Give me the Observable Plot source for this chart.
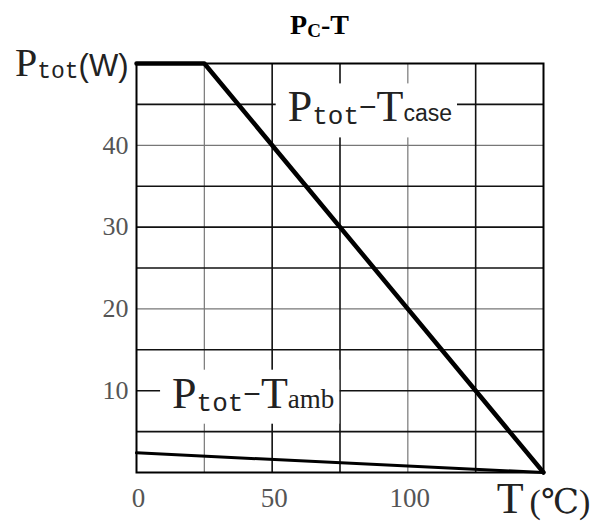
<!DOCTYPE html>
<html><head><meta charset="utf-8">
<script src="https://cdn.jsdelivr.net/npm/d3@7"></script>
<script src="https://cdn.jsdelivr.net/npm/@observablehq/plot@0.6"></script>
<style>
body{margin:0;background:#fff;}
#wrap{position:relative;width:596px;height:524px;overflow:hidden;}
#title{position:absolute;left:0;top:11px;width:639px;text-align:center;font-family:"Liberation Serif","Times New Roman",serif;font-size:28px;font-weight:bold;line-height:28px;color:#000;white-space:nowrap;}
#title sub{font-size:19px;vertical-align:baseline;position:relative;top:3px;}
#chart{position:absolute;left:0;top:40px;}
</style></head><body>
<div id="wrap"><div id="title">P<sub>C</sub>-T</div><div id="chart"></div></div>
<script>
// Data
const caseTemp = [0, 25, 150];
const casePower = [50, 50, 0];
const ambTemp = [0, 150];
const ambPower = [2.4, 0];
const gridXDark = [50, 75, 125];
const gridXLight = [25, 100];
const gridYDark = [5, 10, 15, 25, 30, 35, 45];
const gridYLight = [20, 40];
const xTicks = [0, 50, 100];
const yTicks = [10, 20, 30, 40];
const curveLabels = ["Ptot-Tcase", "Ptot-Tamb"];
const curveLabelX = [86, 43];
const curveLabelY = [45, 10];
const yUnitLabel = "Ptot(W)";
const xUnitLabel = "T (\u2103)";

const SERIF = '"Liberation Serif","Times New Roman","DejaVu Serif",serif';
const SANS = '"Liberation Sans",Arial,sans-serif';
const MONO = '"Liberation Mono","DejaVu Sans Mono",monospace';

const caseData = caseTemp.map((t, i) => ({t, p: casePower[i]}));
const ambData = ambTemp.map((t, i) => ({t, p: ambPower[i]}));
const labelData = curveLabels.map((s, i) => ({s, x: curveLabelX[i], y: curveLabelY[i]}));

const chart = Plot.plot({
  width: 596, height: 484,
  marginLeft: 136, marginRight: 53, marginTop: 23, marginBottom: 52,
  x: {domain: [0, 150]},
  y: {domain: [0, 50]},
  style: {background: "#fff"},
  marks: [
    Plot.ruleX(gridXLight, {stroke: "#777", strokeWidth: 1.2}),
    Plot.ruleY(gridYLight, {stroke: "#777", strokeWidth: 1.2}),
    Plot.ruleX(gridXDark, {stroke: "#111", strokeWidth: 1.6}),
    Plot.ruleY(gridYDark, {stroke: "#111", strokeWidth: 1.6}),
    Plot.frame({stroke: "#000", strokeWidth: 2}),
    Plot.axisX(xTicks, {tickSize: 0, tickPadding: 15, dx: 2, fontSize: 27, fontFamily: SERIF, color: "#555", label: null}),
    Plot.axisY(yTicks, {tickSize: 0, tickPadding: 8, fontSize: 26, fontFamily: SERIF, color: "#555", label: null}),
    Plot.line(ambData, {x: "t", y: "p", stroke: "#000", strokeWidth: 3}),
    Plot.line(caseData, {x: "t", y: "p", stroke: "#000", strokeWidth: 4.5}),
    Plot.text(labelData, {x: "x", y: "y", text: "s", textAnchor: "middle", lineAnchor: "bottom", dy: 17, fill: "#222", fontSize: 30}),
    Plot.text([yUnitLabel], {x: () => 0, y: () => 50, text: d => d, textAnchor: "end", lineAnchor: "bottom", dx: -8, dy: 12, fill: "#222", fontSize: 30}),
    Plot.text([xUnitLabel], {x: () => 150, y: () => 0, text: d => d, textAnchor: "middle", lineAnchor: "bottom", dy: 40, fill: "#222", fontSize: 30})
  ]
});
document.getElementById("chart").appendChild(chart);

const rich = {
  "Ptot-Tcase": [["P", SERIF, 44, 0], ["tot", MONO, 26, 3], ["\u2212", SANS, 30, -4], ["T", SERIF, 44, 0], ["case", SANS, 23, 0]],
  "Ptot-Tamb": [["P", SERIF, 44, 0], ["tot", MONO, 26, 3], ["\u2212", SANS, 30, -4], ["T", SERIF, 44, 0], ["amb", SERIF, 27, 0]],
  "Ptot(W)": [["P", SERIF, 40, 0], ["tot", MONO, 23, 2], ["(W)", SANS, 31, 0]],
  "T (\u2103)": [["T", SERIF, 44, 0], ["\u2009", SERIF, 30, 0], ["(\u2103)", SERIF, 34, 0]]
};
const NS = "http://www.w3.org/2000/svg";
chart.querySelectorAll("text").forEach(t => {
  const key = t.textContent;
  const segs = rich[key];
  if (!segs) return;
  t.textContent = "";
  let cur = 0;
  for (const [s, f, size, off] of segs) {
    const ts = document.createElementNS(NS, "tspan");
    ts.textContent = s;
    ts.setAttribute("font-family", f);
    ts.setAttribute("font-size", size);
    if (off !== cur) ts.setAttribute("dy", off - cur);
    cur = off;
    t.appendChild(ts);
  }
  if (curveLabels.includes(key)) {
    const bb = t.getBBox();
    const r = document.createElementNS(NS, "rect");
    r.setAttribute("x", bb.x - 12);
    r.setAttribute("y", bb.y + 1);
    r.setAttribute("width", bb.width + 17);
    r.setAttribute("height", bb.height + 4);
    r.setAttribute("fill", "#fff");
    const tr = t.getAttribute("transform");
    if (tr) r.setAttribute("transform", tr);
    t.parentNode.insertBefore(r, t);
  }
});
</script>
</body></html>
